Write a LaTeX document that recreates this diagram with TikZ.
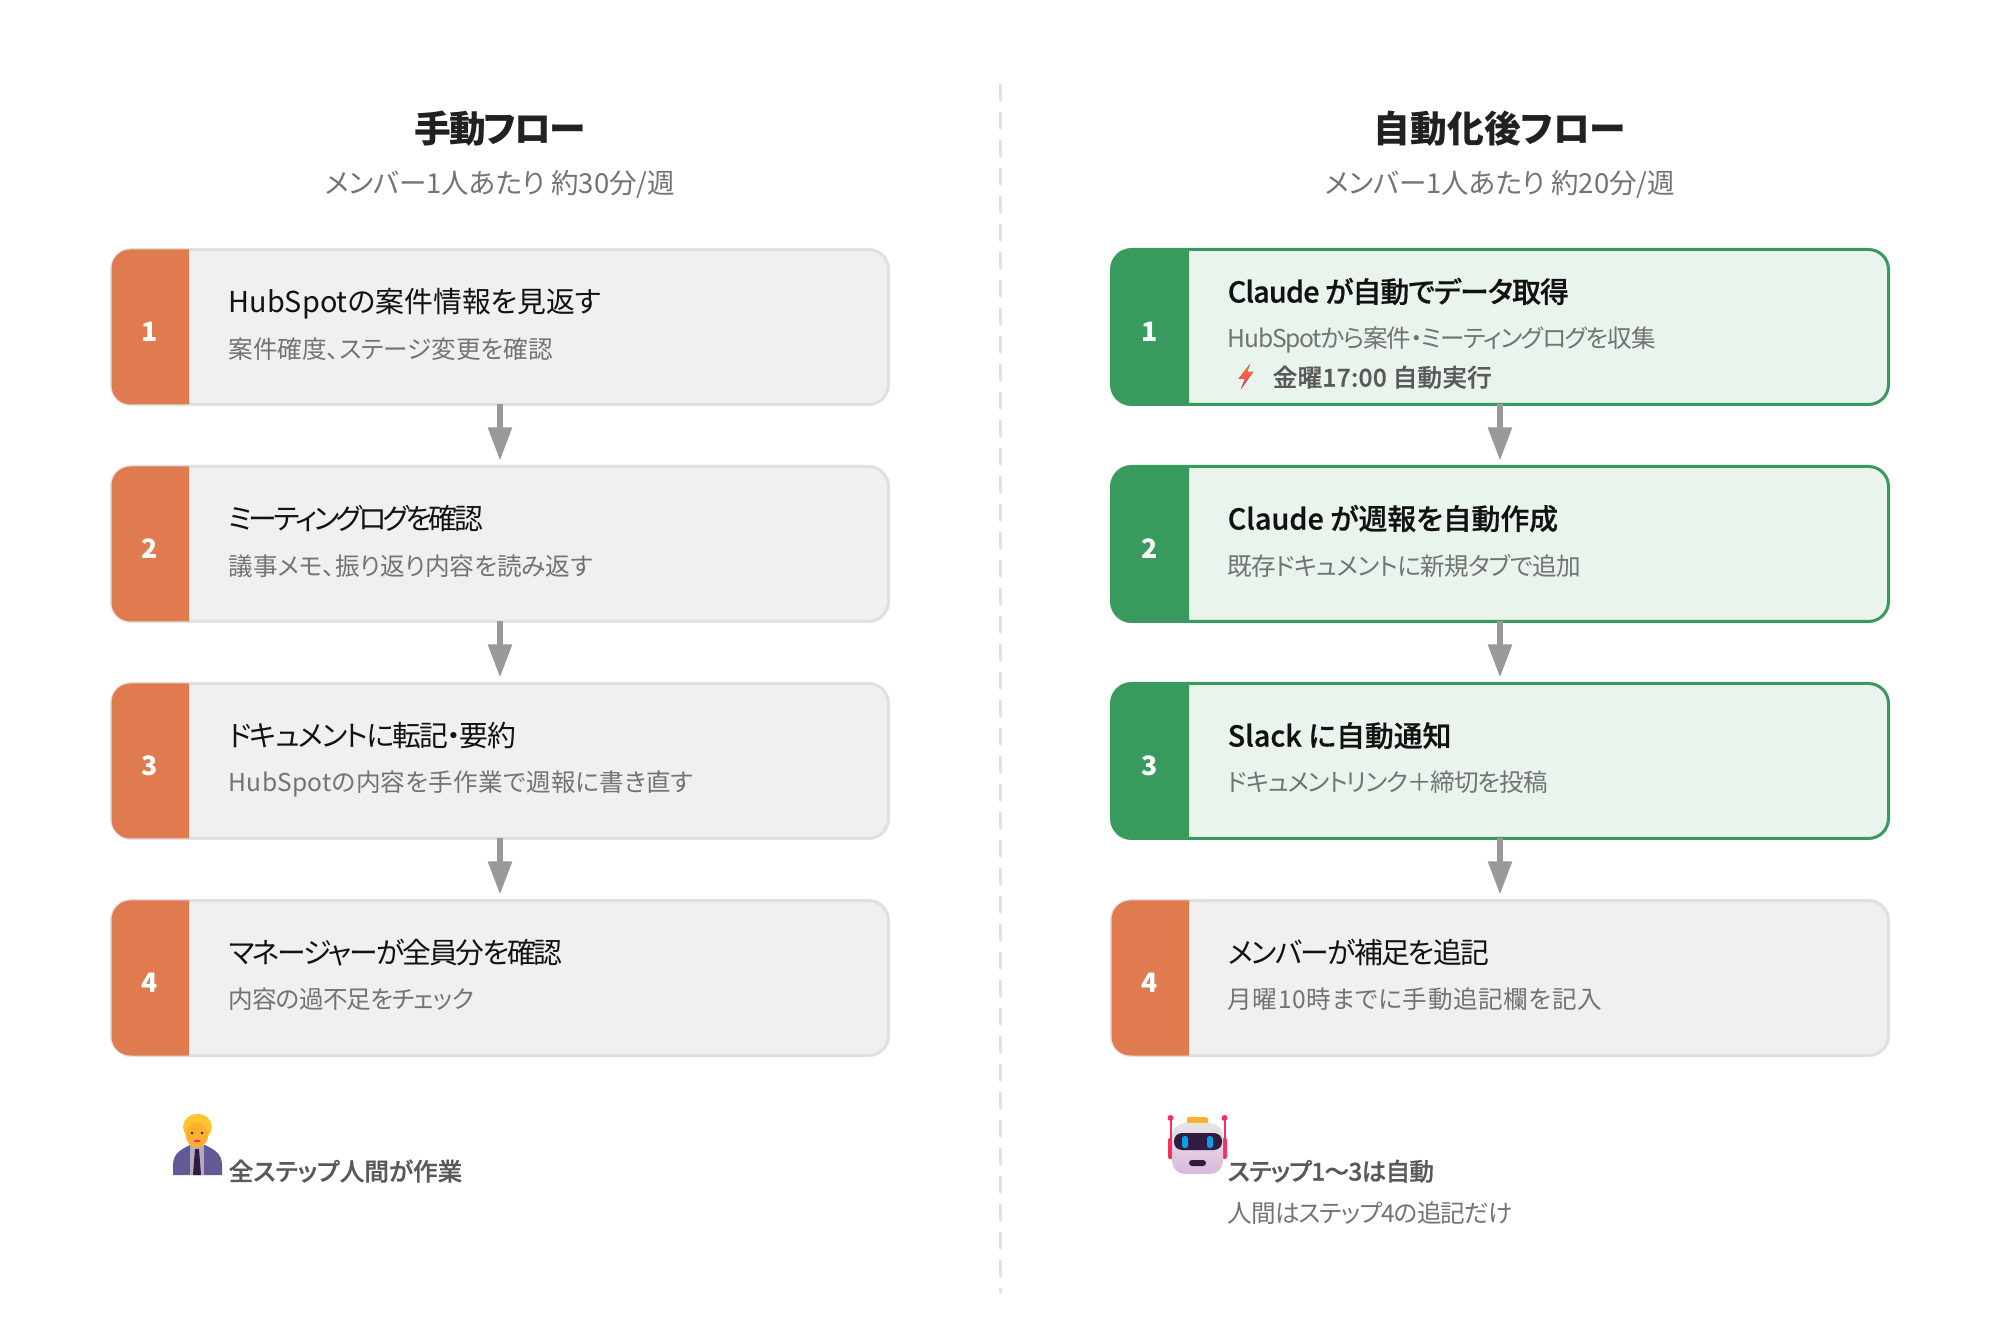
\documentclass[tikz,border=0pt]{standalone}
\usepackage{fontspec}
\setmainfont[RawFeature={+palt}]{Noto Sans CJK JP}
\newfontfamily\semifont[RawFeature={+palt},FakeBold=0.6]{Noto Sans CJK JP Medium}
\usetikzlibrary{arrows.meta}

\definecolor{stepgray}{HTML}{F0F0F0}
\definecolor{stepline}{HTML}{E0E0E0}
\definecolor{autogreen}{HTML}{389B5D}
\definecolor{autofill}{HTML}{E9F4EC}
\definecolor{handorange}{HTML}{E07A4F}
\definecolor{emojiyellow}{HTML}{FFB02E}
\definecolor{emojihair}{HTML}{FCC62F}
\definecolor{emojisuit}{HTML}{635994}
\definecolor{emojishirt}{HTML}{B4ACBC}
\definecolor{emojidark}{HTML}{321B41}
\definecolor{emojipink}{HTML}{F92F60}
\definecolor{emojiblue}{HTML}{0E9BE8}
\definecolor{emojiorange}{HTML}{FF822D}

\tikzset{
    heading/.style={anchor=center,text=black!87,font=\fontsize{10.45}{12}\selectfont\bfseries},
    subheading/.style={anchor=center,text=black!55,font=\fontsize{7.83}{9}\selectfont},
    handbox/.style={draw=stepline,fill=stepgray,line width=0.03cm,rounded corners=0.2cm,
        minimum width=7.77cm,minimum height=1.55cm,outer sep=0pt},
    autobox/.style={handbox,draw=autogreen,fill=autofill},
    numlabel/.style={anchor=center,text=white,font=\fontsize{7.6}{9}\selectfont\bfseries},
    steptitle/.style={anchor=west,inner sep=0pt,text height=0.8em,text depth=0.2em,text=black!93,
        font=\fontsize{8.2}{10}\selectfont},
    autotitle/.style={steptitle,font=\fontsize{8.2}{10}\selectfont\semifont},
    stepnote/.style={anchor=west,inner sep=0pt,text height=0.8em,text depth=0.2em,text=black!55,
        font=\fontsize{7}{9}\selectfont},
    boldnote/.style={stepnote,text=black!65,font=\fontsize{7}{9}\selectfont\semifont},
    flowarrow/.style={draw=black!40,line width=0.055cm,shorten >=0.06cm,
        -{Triangle[length=0.33cm,width=0.23cm,fill=black!40]}},
    divider/.style={draw=stepline,line width=0.03cm,dash pattern=on 0.17cm off 0.11cm},
}

% coloured part of a step box
\newcommand{\stepbadge}[2]{
    \fill[#2] ([xshift=0.775cm]#1.south west) -- ([xshift=0.775cm]#1.north west)
        [rounded corners=0.19cm] -- (#1.north west) -- (#1.south west)
        [sharp corners] -- cycle;
}
% letter spacing of one line
\newcommand{\fitspace}[2]{{\addfontfeature{LetterSpace=#1}#2}}

\begin{document}
\begin{tikzpicture}
    \useasboundingbox[fill=white] (0,0) rectangle (20,13.33);

    % Divider
    \coordinate (divtop) at (10,12.49);
    \coordinate (divbottom) at (10,0.40);
    \draw[divider] (divtop)--(divbottom);

    % Headings
    \node[heading] (lhead) at (5,12.04) {\fitspace{-5}{手動フロー}};
    \node[subheading] (lsubhead) at (5,11.49) {メンバー1人あたり 約30分/週};
    \node[heading] (rhead) at (15,12.04) {自動化後フロー};
    \node[subheading] (rsubhead) at (15,11.49) {メンバー1人あたり 約20分/週};

    % Manual boxes
    \node[handbox] (lbox1) at (5,10.06) {};
    \node[handbox] (lbox2) at (5,7.89) {};
    \node[handbox] (lbox3) at (5,5.72) {};
    \node[handbox] (lbox4) at (5,3.55) {};
    \stepbadge{lbox1}{handorange}
    \stepbadge{lbox2}{handorange}
    \stepbadge{lbox3}{handorange}
    \stepbadge{lbox4}{handorange}

    % Automated boxes
    \node[autobox] (rbox1) at (15,10.06) {};
    \node[autobox] (rbox2) at (15,7.89) {};
    \node[autobox] (rbox3) at (15,5.72) {};
    \node[handbox] (rbox4) at (15,3.55) {};
    \stepbadge{rbox1}{autogreen}
    \stepbadge{rbox2}{autogreen}
    \stepbadge{rbox3}{autogreen}
    \stepbadge{rbox4}{handorange}

    % Arrows
    \draw[flowarrow] (lbox1.south)--(lbox2.north);
    \draw[flowarrow] (lbox2.south)--(lbox3.north);
    \draw[flowarrow] (lbox3.south)--(lbox4.north);
    \draw[flowarrow] (rbox1.south)--(rbox2.north);
    \draw[flowarrow] (rbox2.south)--(rbox3.north);
    \draw[flowarrow] (rbox3.south)--(rbox4.north);

    % Numbers
    \node[numlabel] (lnum1) at (1.5,10.01) {1};
    \node[numlabel] (lnum2) at (1.5,7.84) {2};
    \node[numlabel] (lnum3) at (1.5,5.67) {3};
    \node[numlabel] (lnum4) at (1.5,3.50) {4};
    \node[numlabel] (rnum1) at (11.5,10.01) {1};
    \node[numlabel] (rnum2) at (11.5,7.84) {2};
    \node[numlabel] (rnum3) at (11.5,5.67) {3};
    \node[numlabel] (rnum4) at (11.5,3.50) {4};

    % Manual texts
    \node[steptitle] (ltitle1) at (2.28,10.31) {HubSpotの案件情報を見返す};
    \node[stepnote] (lnote1) at (2.28,9.85) {案件確度、ステージ変更を確認};
    \node[steptitle] (ltitle2) at (2.28,8.14) {\fitspace{-12}{ミーティングログを確認}};
    \node[stepnote] (lnote2) at (2.28,7.68) {議事メモ、振り返り内容を読み返す};
    \node[steptitle] (ltitle3) at (2.28,5.97) {\fitspace{-5.5}{ドキュメントに転記・要約}};
    \node[stepnote] (lnote3) at (2.28,5.52) {\fitspace{1}{HubSpotの内容を手作業で週報に書き直す}};
    \node[steptitle] (ltitle4) at (2.28,3.80) {\fitspace{-7.2}{マネージャーが全員分を確認}};
    \node[stepnote] (lnote4) at (2.28,3.35) {\fitspace{-3.3}{内容の過不足をチェック}};

    % Automated texts
    \node[autotitle] (rtitle1) at (12.27,10.41) {\fitspace{-3}{Claude が自動でデータ取得}};
    \node[stepnote] (rnote1) at (12.27,9.96) {\fitspace{-5}{HubSpotから案件・ミーティングログを収集}};
    \node[boldnote] (rtime1) at (12.72,9.57) {\fitspace{1}{金曜17:00 自動実行}};
    \node[autotitle] (rtitle2) at (12.27,8.14) {Claude が週報を自動作成};
    \node[stepnote] (rnote2) at (12.27,7.68) {\fitspace{-2.6}{既存ドキュメントに新規タブで追加}};
    \node[autotitle] (rtitle3) at (12.27,5.97) {Slack に自動通知};
    \node[stepnote] (rnote3) at (12.27,5.52) {\fitspace{-4.5}{ドキュメントリンク＋締切を投稿}};
    \node[steptitle] (rtitle4) at (12.27,3.80) {\fitspace{-5.8}{メンバーが補足を追記}};
    \node[stepnote] (rnote4) at (12.27,3.35) {\fitspace{2.5}{月曜10時までに手動追記欄を記入}};

    % Lightning
    \fill[top color=emojiorange,middle color=emojiorange,bottom color=emojipink]
        (12.50,9.69)--(12.385,9.54)--(12.45,9.54)--(12.41,9.44)--(12.53,9.61)--(12.47,9.61)--cycle;

    % Footers
    \node[boldnote] (lfoot) at (2.28,1.63) {全ステップ人間が作業};
    \node[boldnote] (rfoot) at (12.27,1.63) {\fitspace{-3}{ステップ1〜3は自動}};
    \node[stepnote] (rfootnote) at (12.27,1.21) {\fitspace{-3.7}{人間はステップ4の追記だけ}};

    % Person
    \fill[emojisuit] (1.73,1.58)--(1.73,1.68) .. controls (1.73,1.80) and (1.82,1.84) .. (1.90,1.88)
        --(2.05,1.88) .. controls (2.13,1.84) and (2.22,1.80) .. (2.22,1.68)--(2.22,1.58)--cycle;
    \fill[emojishirt] (1.90,1.58)--(1.90,1.88)--(2.04,1.88)--(2.04,1.58)--cycle;
    \fill[emojidark] (1.95,1.84)--(1.99,1.84)--(2.01,1.58)--(1.93,1.58)--cycle;
    \fill[emojihair] (1.975,2.06) ellipse (0.145 and 0.13);
    \fill[emojiyellow] (1.97,1.98) ellipse (0.112 and 0.125);
    \fill[emojidark] (1.92,2.0) circle (0.014);
    \fill[emojidark] (2.02,2.0) circle (0.014);
    \fill[emojipink] (1.97,1.92) ellipse (0.035 and 0.012);

    % Robot
    \fill[emojipink,rounded corners=0.02cm] (11.68,1.74) rectangle (11.73,1.95);
    \fill[emojipink,rounded corners=0.02cm] (12.22,1.74) rectangle (12.27,1.95);
    \draw[emojipink,line width=0.02cm] (11.705,1.9)--(11.705,2.15);
    \draw[emojipink,line width=0.02cm] (12.245,1.9)--(12.245,2.15);
    \fill[emojipink] (11.705,2.15) circle (0.03);
    \fill[emojipink] (12.245,2.15) circle (0.03);
    \fill[emojiyellow,rounded corners=0.02cm] (11.87,2.06) rectangle (12.08,2.16);
    \shade[top color=black!10,bottom color=violet!28!white,rounded corners=0.13cm] (11.72,1.59) rectangle (12.23,2.10);
    \fill[emojidark,rounded corners=0.08cm] (11.74,1.83) rectangle (12.22,2.00);
    \fill[emojiblue,rounded corners=0.025cm] (11.82,1.85) rectangle (11.88,1.97);
    \fill[emojiblue,rounded corners=0.025cm] (12.07,1.85) rectangle (12.13,1.97);
    \fill[emojidark,rounded corners=0.03cm] (11.89,1.67) rectangle (12.06,1.73);
\end{tikzpicture}
\end{document}
